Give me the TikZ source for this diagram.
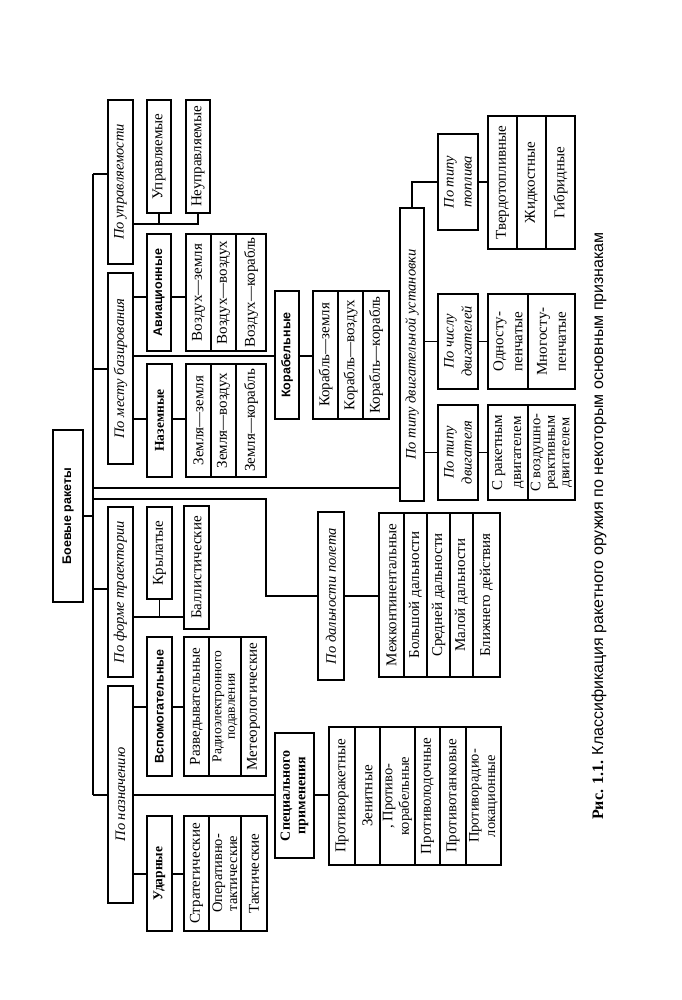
\documentclass[tikz,border=0pt]{standalone}
\usepackage{fontspec}
\setmainfont{Liberation Serif}
\newfontfamily\sfb{Liberation Sans}
\usetikzlibrary{calc}
\newcommand\Bx[7]{\node[#1, minimum width={(#6)-(#5)}, minimum height={(#4)-(#3)}] (#2) at ({((#3)+(#4))/2},{((#5)+(#6))/2}) {#7};}
\begin{document}
\begin{tikzpicture}[x=1pt,y=-1pt,line width=1.1pt,
  base/.style={draw, rotate=90, inner sep=0pt, outer sep=0pt, align=center},
  cell/.style={base, font=\fontsize{15}{16}\selectfont},
  ctwoa/.style={base, font=\fontsize{13.5}{13.5}\selectfont},
  ctwob/.style={base, font=\fontsize{14.5}{15}\selectfont},
  ctwoc/.style={base, font=\fontsize{14.5}{16.5}\selectfont},
  ctwod/.style={base, font=\fontsize{15}{19}\selectfont},
  cthree/.style={base, font=\fontsize{14.5}{14.5}\selectfont},
  cat/.style={base, font=\fontsize{14.5}{16}\selectfont\itshape},
  cattwo/.style={base, font=\fontsize{14.5}{18}\selectfont\itshape},
  bs/.style={base, font=\fontsize{12.5}{14}\selectfont\sfb\bfseries},
  bt/.style={base, font=\fontsize{13.5}{15}\selectfont\bfseries},
  bttwo/.style={base, font=\fontsize{14}{15.5}\selectfont\bfseries}]
\useasboundingbox (0,0) rectangle (681,1000);
% root and categories
\Bx{bs}{root}{53}{83}{430}{602}{Боевые ракеты}
\Bx{cat}{pupr}{108}{133}{100}{264}{По управляемости}
\Bx{cell}{upr}{147}{171}{100}{213}{Управляемые}
\Bx{cell}{nupr}{186}{210}{100}{213}{Неуправляемые}
\Bx{cat}{pbaz}{108}{133}{273}{464}{По месту базирования}
\Bx{bs}{avia}{147}{171}{234}{351}{Авиационные}
\Bx{cell}{vz1}{186}{211}{234}{351}{Воздух—земля}
\Bx{cell}{vz2}{211}{236}{234}{351}{Воздух—воздух}
\Bx{cell}{vz3}{236}{266}{234}{351}{Воздух—корабль}
\Bx{bt}{naz}{147}{172}{364}{477}{Наземные}
\Bx{cell}{zm1}{186}{211}{364}{477}{Земля—земля}
\Bx{cell}{zm2}{211}{236}{364}{477}{Земля—воздух}
\Bx{cell}{zm3}{236}{266}{364}{477}{Земля—корабль}
\Bx{bs}{kor}{275}{299}{291}{419}{Корабельные}
\Bx{cell}{kr1}{313}{338}{291}{419}{Корабль—земля}
\Bx{cell}{kr2}{338}{363}{291}{419}{Корабль—воздух}
\Bx{cell}{kr3}{363}{389}{291}{419}{Корабль—корабль}
\Bx{cat}{pform}{108}{133}{507}{677}{По форме траектории}
\Bx{cell}{kryl}{147}{172}{507}{599}{Крылатые}
\Bx{cell}{ball}{184}{209}{506}{629}{Баллистические}
\Bx{cat}{pnaz}{108}{133}{686}{903}{По назначению}
\Bx{bs}{vspom}{147}{172}{637}{776}{Вспомогательные}
\Bx{cell}{rz1}{184}{209}{637}{776}{Разведывательные}
\Bx{ctwoa}{rz2}{209}{241}{637}{776}{Радиоэлектронного\\подавления}
\Bx{cell}{rz3}{241}{266}{637}{776}{Метеорологические}
\Bx{bt}{udar}{147}{172}{816}{931}{Ударные}
\Bx{cell}{st1}{184}{209}{816}{931}{Стратегические}
\Bx{ctwob}{st2}{209}{241}{816}{931}{Оперативно-\\тактические}
\Bx{cell}{st3}{241}{267}{816}{931}{Тактические}
\Bx{bttwo}{spec}{275}{314}{733}{858}{Специального\\применения}
\Bx{cell}{pr1}{329}{355}{727}{865}{Противоракетные}
\Bx{cell}{pr2}{355}{380}{727}{865}{Зенитные}
\Bx{ctwoc}{pr3}{380}{415}{727}{865}{, Противо-\\корабельные}
\Bx{cell}{pr4}{415}{440}{727}{865}{Противолодочные}
\Bx{cell}{pr5}{440}{466}{727}{865}{Противотанковые}
\Bx{ctwoc}{pr6}{466}{501}{727}{865}{Противорадио-\\локационные}
\Bx{cat}{pdal}{318}{344}{512}{680}{По дальности полета}
\Bx{cell}{d1}{379}{404}{513}{677}{Межконтинентальные}
\Bx{cell}{d2}{404}{427}{513}{677}{Большой дальности}
\Bx{cell}{d3}{427}{450}{513}{677}{Средней дальности}
\Bx{cell}{d4}{450}{473}{513}{677}{Малой дальности}
\Bx{cell}{d5}{473}{500}{513}{677}{Ближнего действия}
\Bx{cat}{pdu}{400}{424}{208}{501}{По типу двигательной установки}
\Bx{cattwo}{ptop}{438}{478}{134}{230}{По типу\\топлива}
\Bx{cell}{tp1}{488}{517}{116}{249}{Твердотопливные}
\Bx{cell}{tp2}{517}{546}{116}{249}{Жидкостные}
\Bx{cell}{tp3}{546}{575}{116}{249}{Гибридные}
\Bx{cattwo}{pchis}{438}{478}{294}{389}{По числу\\двигателей}
\Bx{ctwod}{ch1}{488}{528}{294}{389}{Односту-\\пенчатые}
\Bx{ctwod}{ch2}{528}{575}{294}{389}{Многосту-\\пенчатые}
\Bx{cattwo}{ptip}{438}{478}{405}{500}{По типу\\двигателя}
\Bx{ctwod}{te1}{488}{528}{405}{500}{С ракетным\\двигателем}
\Bx{cthree}{te2}{528}{575}{405}{500}{С воздушно-\\реактивным\\двигателем}
% caption
\node[rotate=90, inner sep=0pt, font=\fontsize{16}{18}\selectfont] (cap) at (599,526)
  {\textbf{Рис. 1.1.} {\sfb Классификация ракетного оружия по некоторым основным признакам}};
% spine
\coordinate (sT) at (93,174);
\coordinate (sB) at (93,795);
\coordinate (dbend) at (266,596);
\draw (sT) -- (sB);
\draw (root.south) -- (sT |- root.south);
\draw (sT) -- (pupr.north |- sT);
\draw (sT |- 0,369) -- (pbaz.north |- 0,369);
\draw (sT |- 0,589) -- (pform.north |- 0,589);
\draw (sB) -- (pnaz.north |- sB);
\draw (sT |- 0,488) -- (pdu.north |- 0,488);
\draw (sT |- 0,499) -| (dbend) -- (pdal.north |- dbend);
\draw (pdal.south |- dbend) -- (d1.north |- dbend);
% po upravlyaemosti
\draw (pupr.south |- 0,224) -| (nupr.west);
\draw (upr.west) -- (upr.west |- 0,224);
% po mestu bazirovaniya
\draw (pbaz.south |- 0,297) -- (avia.north |- 0,297);
\draw (avia.south |- 0,297) -- (vz1.north |- 0,297);
\draw (pbaz.south |- 0,419) -- (naz.north |- 0,419);
\draw (naz.south |- 0,419) -- (zm1.north |- 0,419);
\draw (pbaz.south |- 0,356) -- (kor.north |- 0,356);
\draw (kor.south |- 0,356) -- (kr1.north |- 0,356);
% po forme traektorii
\draw (pform.south |- 0,617) -- (ball.north |- 0,617);
\draw (kryl.west) -- (kryl.west |- 0,617);
% po naznacheniyu
\draw (pnaz.south |- 0,707) -- (vspom.north |- 0,707);
\draw (vspom.south |- 0,707) -- (rz1.north |- 0,707);
\draw (pnaz.south |- 0,874) -- (udar.north |- 0,874);
\draw (udar.south |- 0,874) -- (st1.north |- 0,874);
\draw (pnaz.south |- sB) -- (spec.north |- sB);
\draw (spec.south |- sB) -- (pr1.north |- sB);
% po tipu dvigatelnoy ustanovki
\draw (pdu.east) |- (ptop.north);
\draw (ptop.south) -- (tp1.north |- ptop.south);
\draw (pdu.south |- pchis.north) -- (pchis.north);
\draw (pchis.south) -- (ch1.north |- pchis.south);
\draw (pdu.south |- ptip.north) -- (ptip.north);
\draw (ptip.south) -- (te1.north |- ptip.south);
\end{tikzpicture}
\end{document}
